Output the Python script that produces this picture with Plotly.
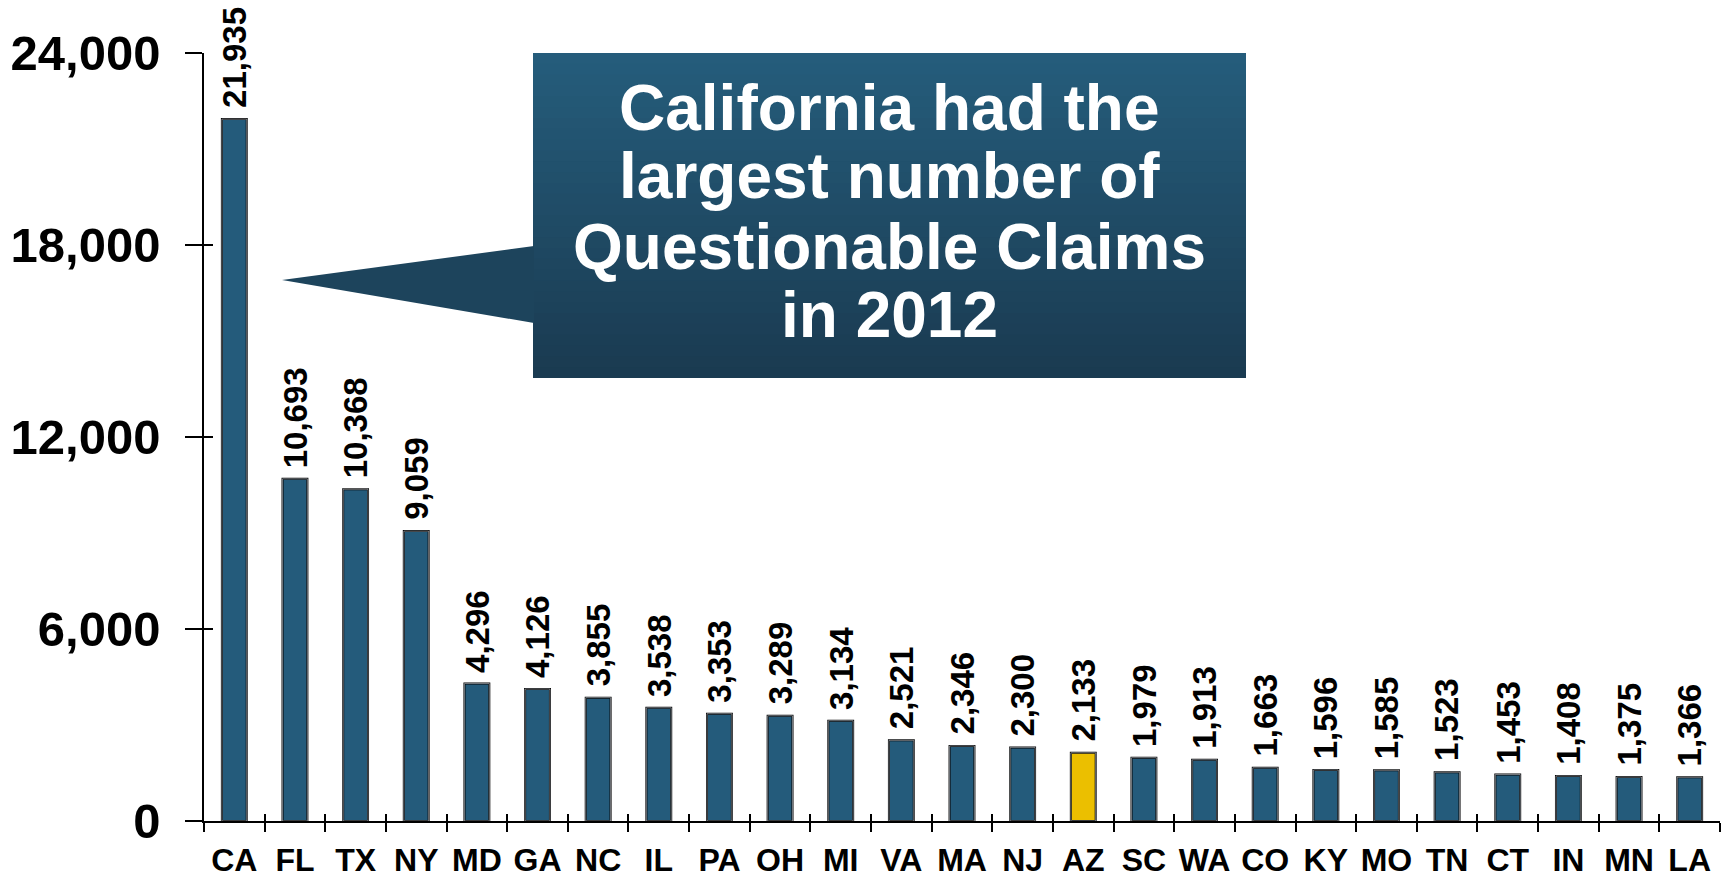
import plotly.graph_objects as go

# Questionable claims by state, 2012
states = ["CA", "FL", "TX", "NY", "MD", "GA", "NC", "IL", "PA", "OH", "MI", "VA", "MA",
          "NJ", "AZ", "SC", "WA", "CO", "KY", "MO", "TN", "CT", "IN", "MN", "LA"]
claims = [21935, 10693, 10368, 9059, 4296, 4126, 3855, 3538, 3353, 3289, 3134, 2521, 2346,
          2300, 2133, 1979, 1913, 1663, 1596, 1585, 1523, 1453, 1408, 1375, 1366]
highlight = "AZ"
y_ticks = [0, 6000, 12000, 18000, 24000]
callout_lines = ["California had the", "largest number of", "Questionable Claims", "in 2012"]

BAR = "#245B7B"
GOLD = "#EBBF00"
TOP = (37, 93, 124)
BOTTOM = (26, 58, 80)
FONT = "Liberation Sans, Arial, sans-serif"

W, H = 1727, 878
L, R, T, B = 204, 7, 53, 57
PW, PH = W - L - R, H - T - B


def px(x):
    return (x - L) / PW


def py(y):
    return (H - B - y) / PH


def mix(f):
    c = [round(a + (b - a) * f) for a, b in zip(TOP, BOTTOM)]
    return f"rgb({c[0]},{c[1]},{c[2]})"


colors = [GOLD if s == highlight else BAR for s in states]

fig = go.Figure()
fig.add_trace(go.Bar(
    x=states, y=claims,
    marker=dict(color=colors, line=dict(color="black", width=2)),
    width=0.41, hoverinfo="x+y", showlegend=False,
))
# invisible copy to carry the inner half of the cross tick marks
fig.add_trace(go.Bar(
    x=states, y=claims, xaxis="x2", yaxis="y2",
    marker=dict(color="rgba(0,0,0,0)"), hoverinfo="skip", showlegend=False,
))

# value labels above bars
for s, v in zip(states, claims):
    fig.add_annotation(
        x=s, y=v, text=f"{v:,}", textangle=-90, showarrow=False,
        xanchor="center", yanchor="bottom", yshift=9,
        font=dict(family=FONT, size=33, color="black", weight="bold"),
    )

# callout box with vertical gradient
x0, x1, y0, y1 = 533, 1246, 53, 378
n = 30
for i in range(n):
    ya = y0 + (y1 - y0) * i / n
    yb = min(y1, y0 + (y1 - y0) * (i + 1) / n + 3)
    fig.add_shape(type="rect", xref="paper", yref="paper",
                  x0=px(x0), x1=px(x1), y0=py(yb), y1=py(ya),
                  fillcolor=mix((i + 0.5) / n), line=dict(width=0), layer="above")
fig.add_shape(
    type="path", xref="paper", yref="paper", layer="above",
    path=f"M {px(x0 + 1)},{py(246)} L {px(282)},{py(280)} L {px(x0 + 1)},{py(323)} Z",
    fillcolor=mix(0.72), line=dict(width=0),
)
for txt, yc in zip(callout_lines, [108, 176, 247, 315]):
    fig.add_annotation(
        xref="paper", yref="paper", x=px((x0 + x1) / 2), y=py(yc),
        text=txt, showarrow=False, xanchor="center", yanchor="middle",
        font=dict(family=FONT, size=64, color="white", weight="bold"),
    )

fig.update_layout(
    width=W, height=H,
    margin=dict(l=L, r=R, t=T, b=B, autoexpand=False),
    plot_bgcolor="white", paper_bgcolor="white",
    bargap=0.59,
    xaxis=dict(
        type="category", categoryorder="array", categoryarray=states,
        range=[-0.5, len(states) - 0.5], automargin=False, tickangle=0,
        showline=True, linecolor="black", linewidth=2,
        ticks="outside", ticklen=9, tickwidth=1.5, tickcolor="black",
        tickson="boundaries", ticklabelstandoff=10,
        tickfont=dict(family=FONT, size=32, color="black", weight="bold"),
        showgrid=False, zeroline=False,
    ),
    yaxis=dict(
        range=[0, 24000], tickvals=y_ticks, automargin=False,
        ticktext=[f"{t:,}" for t in y_ticks],
        showline=True, linecolor="black", linewidth=1.5,
        ticks="outside", ticklen=17, tickwidth=1.5, tickcolor="black",
        ticklabelstandoff=15,
        tickfont=dict(family=FONT, size=49, color="black", weight="bold"),
        showgrid=False, zeroline=False,
    ),
    xaxis2=dict(
        type="category", categoryorder="array", categoryarray=states,
        overlaying="x", anchor="y2", side="bottom", automargin=False,
        range=[-0.5, len(states) - 0.5],
        ticks="inside", ticklen=7, tickwidth=1.5, tickcolor="black",
        tickson="boundaries", showticklabels=False,
        showline=False, showgrid=False, zeroline=False,
    ),
    yaxis2=dict(
        overlaying="y", anchor="x2", side="left", range=[0, 24000], automargin=False,
        tickvals=y_ticks, ticks="inside", ticklen=9, tickwidth=1.5, tickcolor="black",
        showticklabels=False, showline=False, showgrid=False, zeroline=False,
    ),
)

# drop the browser's default 8px body margin so the figure fills the window exactly
fig.write_html(
    "out.html",
    config={"displayModeBar": False},
    post_script="document.body.style.margin = '0';",
)
